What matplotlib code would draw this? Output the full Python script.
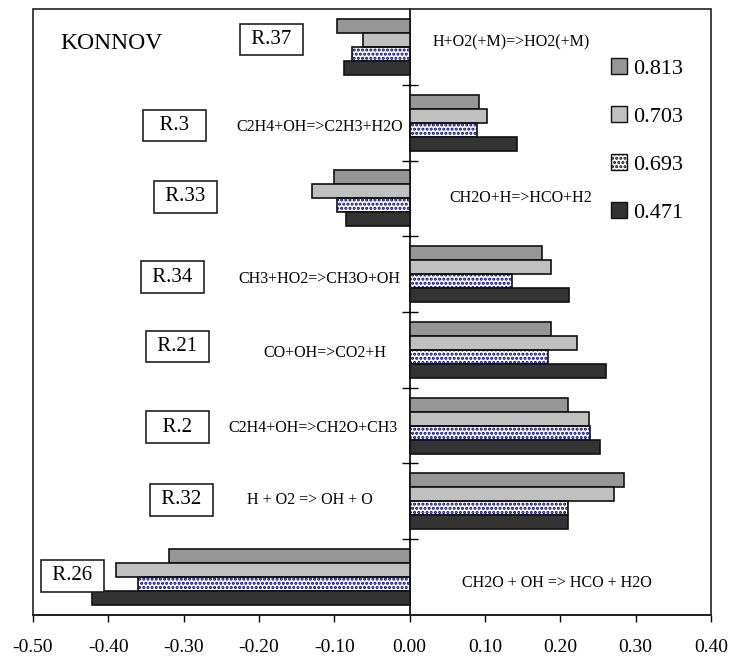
import numpy as np
import matplotlib.pyplot as plt
from matplotlib.patches import Rectangle, Patch

plt.rcParams['font.family'] = ['Liberation Serif', 'DejaVu Serif']
plt.rcParams['axes.unicode_minus'] = False
plt.rcParams['hatch.linewidth'] = 1.5

# reaction groups, top to bottom
labels = ['R.37', 'R.3', 'R.33', 'R.34', 'R.21', 'R.2', 'R.32', 'R.26']
reactions = ['H+O2(+M)=>HO2(+M)', 'C2H4+OH=>C2H3+H2O', 'CH2O+H=>HCO+H2',
             'CH3+HO2=>CH3O+OH', 'CO+OH=>CO2+H', 'C2H4+OH=>CH2O+CH3',
             'H + O2 => OH + O', 'CH2O + OH => HCO + H2O']
series = ['0.813', '0.703', '0.693', '0.471']

v0813 = [-0.097, 0.092, -0.100, 0.176, 0.187, 0.210, 0.284, -0.319]
v0703 = [-0.062, 0.103, -0.129, 0.187, 0.222, 0.238, 0.271, -0.390]
v0693 = [-0.076, 0.090, -0.096, 0.136, 0.183, 0.240, 0.210, -0.361]
v0471 = [-0.087, 0.142, -0.085, 0.212, 0.261, 0.252, 0.210, -0.422]
values = [v0813, v0703, v0693, v0471]

xticks = [-0.5, -0.4, -0.3, -0.2, -0.1, 0.0, 0.1, 0.2, 0.3, 0.4]

colors = ['#969696', '#c0c0c0', 'white', '#333333']

fig = plt.figure(figsize=(7.3, 6.59), dpi=100)
ax = fig.add_axes([0.0452, 0.0668, 0.9288, 0.9195])

y = np.arange(len(labels))
h = 0.185
for i, vals in enumerate(values):
    pos = y + (i - 1.5) * h
    if series[i] == '0.693':
        # dotted fill first, outline on top
        ax.barh(pos, vals, height=h, color='white', edgecolor='#000080',
                linewidth=0, hatch='....', zorder=2)
        ax.barh(pos, vals, height=h, fill=False, edgecolor='#111111',
                linewidth=1.2, zorder=3)
    else:
        ax.barh(pos, vals, height=h, color=colors[i], edgecolor='#111111',
                linewidth=1.2, zorder=3)

ax.set_xlim(-0.5, 0.4)
ax.set_ylim(len(labels) - 0.5, -0.5)
ax.set_xticks(xticks)
ax.set_xticklabels(['%.2f' % t for t in xticks], fontsize=14)
ax.tick_params(axis='x', direction='out', length=5, width=1, pad=12)

# category axis sits at x = 0
ax.spines['left'].set_position(('data', 0))
ax.spines['right'].set_visible(False)
ax.spines['top'].set_visible(False)
ax.set_yticks(y[:-1] + 0.5)
ax.set_yticklabels([])
ax.tick_params(axis='y', direction='inout', length=11, width=1)
for s in ax.spines.values():
    s.set_linewidth(1.2)
ax.add_patch(Rectangle((0, 0), 1, 1, transform=ax.transAxes, fill=False,
                       lw=1.2, ec='#222222', clip_on=False, zorder=5))

# label boxes and reaction names
box_x = [-0.183, -0.312, -0.298, -0.315, -0.308, -0.308, -0.303, -0.448]
box_y = [-0.10, 1.04, 1.98, 3.04, 3.955, 5.02, 5.98, 6.985]
box_txt = [' R.37 ', '  R.3  ', ' R.33 ', ' R.34 ', ' R.21 ', '  R.2  ', ' R.32 ', ' R.26 ']
for bx, by, t in zip(box_x, box_y, box_txt):
    ax.text(bx, by, t, ha='center', va='center', fontsize=15,
            bbox=dict(boxstyle='square,pad=0.3', fc='white', ec='#222222', lw=1.2),
            zorder=6)

rx = [0.135, -0.12, 0.148, -0.12, -0.113, -0.128, -0.132, 0.196]
ry = [-0.064, 1.058, 1.995, 3.064, 4.041, 5.031, 5.982, 7.077]
for x0, y0, t in zip(rx, ry, reactions):
    ax.text(x0, y0, t, ha='center', va='center', fontsize=11.5)

ax.text(-0.396, -0.05, 'KONNOV', ha='center', va='center', fontsize=17)

handles = [Patch(facecolor=colors[i], edgecolor='#111111',
                 hatch='....' if series[i] == '0.693' else None) for i in range(4)]
leg = ax.legend(handles, series, loc='upper left', bbox_to_anchor=(0.823, 0.952),
                frameon=False, fontsize=16, handlelength=0.7, handleheight=0.7,
                handletextpad=0.3, labelspacing=1.24)

fig.savefig('out.png', dpi=100)
